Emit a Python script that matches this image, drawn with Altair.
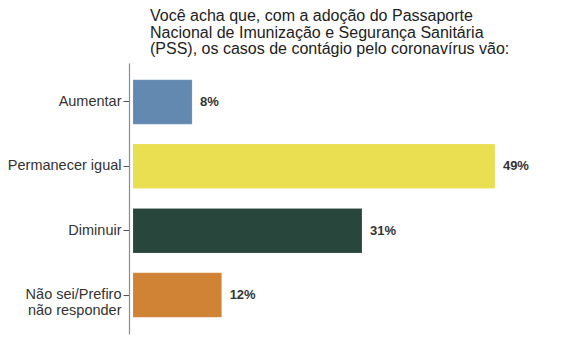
import altair as alt
import pandas as pd

categories = ["Aumentar", "Permanecer igual", "Diminuir", "Não sei/Prefiro\nnão responder"]
values = [8, 49, 31, 12]
value_labels = ["8%", "49%", "31%", "12%"]
colors = ["#6489B1", "#E9DF51", "#28463C", "#D08235"]
title_lines = [
    "\u2005Você acha que, com a adoção do Passaporte",
    "\u2005Nacional de Imunização e Segurança Sanitária",
    "(PSS), os casos de contágio pelo coronavírus vão:",
]

df = pd.DataFrame({"cat": categories, "val": values, "lab": value_labels})

FONT = "Liberation Sans"

y_enc = alt.Y(
    "cat:N",
    sort=categories,
    scale=alt.Scale(paddingInner=0.31, paddingOuter=0.26),
    axis=alt.Axis(
        title=None,
        offset=4,
        tickSize=6,
        labelPadding=2,
        labelExpr="split(datum.label, '\\n')",
        labelFont=FONT,
        labelFontSize=14.5,
        labelColor="#333333",
        labelLineHeight=16,
        domainColor="#8c8c8c",
        tickColor="#555555",
        domainWidth=1.2,
    ),
)
x_enc = alt.X("val:Q", scale=alt.Scale(domain=[0, 57], nice=False), axis=None)

base = alt.Chart(df)
bars = base.mark_bar(stroke="#ffffff", strokeOpacity=0.25, strokeWidth=0.5).encode(
    y=y_enc,
    x=x_enc,
    color=alt.Color("cat:N", scale=alt.Scale(domain=categories, range=colors), legend=None),
)
texts = base.mark_text(
    align="left", baseline="middle", dx=8, fontWeight="bold", fontSize=13, font=FONT, color="#333333"
).encode(y=alt.Y("cat:N", sort=categories), x="val:Q", text="lab:N")

chart = (
    alt.layer(bars, texts)
    .properties(
        width=421,
        height=271,
        autosize=alt.AutoSizeParams(type="none"),
        padding={"left": 125, "top": 55, "right": 15, "bottom": 19},
        title=alt.TitleParams(
            text=title_lines,
            anchor="start",
            frame="group",
            dx=17,
            offset=6,
            font=FONT,
            fontSize=16,
            fontWeight="normal",
            color="#222222",
            lineHeight=16.5,
        ),
    )
    .configure_view(stroke=None)
)

chart.save("out.html", embed_options={"renderer": "svg", "actions": False})
